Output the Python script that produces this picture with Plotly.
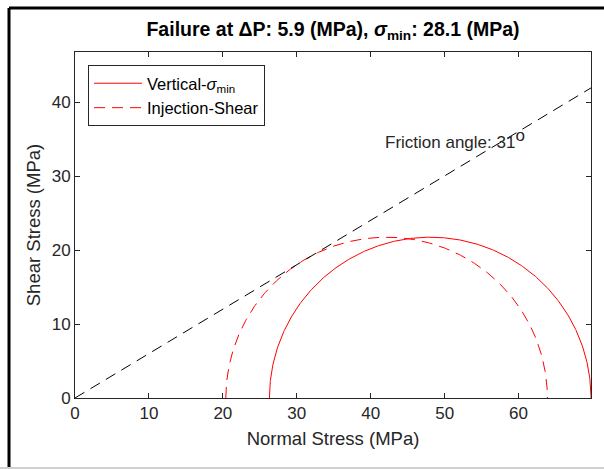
import numpy as np
import plotly.graph_objects as go

# Data
delta_p = 5.9                 # MPa
sigma_min_title = 28.1        # MPa
sigma3_vertical = 26.3        # MPa, left end of solid circle
sigma1_vertical = 69.8        # MPa, right end of solid circle
friction_angle = 31           # degrees
series_names = ["Vertical-<i>σ</i><sub>min</sub>", "Injection-Shear"]
x_ticks = [0, 10, 20, 30, 40, 50, 60]
y_ticks = [0, 10, 20, 30, 40]
x_range = [0, 69.8]
y_range = [0, 46.8]

def mohr(s3, s1, n=400):
    c = (s1 + s3) / 2
    r = (s1 - s3) / 2
    t = np.linspace(np.pi, 0, n)
    return c + r * np.cos(t), r * np.sin(t)

xs, ys = mohr(sigma3_vertical, sigma1_vertical)
xd, yd = mohr(sigma3_vertical - delta_p, sigma1_vertical - delta_p)
fx = np.array([0, x_range[1]])
fy = np.tan(np.radians(friction_angle)) * fx

AX = "#262626"
FONT = "Liberation Sans, Arial, sans-serif"
DASH = "11px,7px"

fig = go.Figure()
fig.add_trace(go.Scatter(x=xs, y=ys, mode="lines", name=series_names[0],
                         line=dict(color="#ff0000", width=1)))
fig.add_trace(go.Scatter(x=xd, y=yd, mode="lines", name=series_names[1],
                         line=dict(color="#ff0000", width=1, dash=DASH)))
fig.add_trace(go.Scatter(x=fx, y=fy, mode="lines", showlegend=False,
                         line=dict(color="#000000", width=1, dash=DASH)))

fig.add_annotation(x=41.6, y=35.0, xanchor="left", yanchor="middle",
                   text=f"Friction angle: {friction_angle}<sup><span style='font-size:17px'>o</span></sup>",
                   showarrow=False, font=dict(family=FONT, size=17, color=AX))

L, R, T, B = 75, 13, 52, 71
W, H = 604, 469
pw, ph = W - L - R, H - T - B

def px(xp):
    return (xp - L) / pw

def py(yp):
    return (H - B - yp) / ph

# figure frame
fig.add_shape(type="line", xref="paper", yref="paper", x0=px(9), x1=px(604),
              y0=py(8), y1=py(8), line=dict(color="black", width=3))
fig.add_shape(type="line", xref="paper", yref="paper", x0=px(9), x1=px(9),
              y0=py(8), y1=py(469), line=dict(color="black", width=3))
fig.add_shape(type="line", xref="paper", yref="paper", x0=px(0), x1=px(604),
              y0=py(468), y1=py(468), line=dict(color="#d0d0d0", width=2))

axis_common = dict(showline=True, linecolor=AX, linewidth=1, mirror="ticks",
                   ticks="inside", ticklen=5, tickcolor=AX, showgrid=False,
                   zeroline=False, tickfont=dict(family=FONT, size=17, color=AX))

fig.update_layout(
    width=W, height=H,
    margin=dict(l=L, r=R, t=T, b=B),
    paper_bgcolor="white", plot_bgcolor="white",
    title=dict(text=f"<b>Failure at ΔP: {delta_p} (MPa), <i>σ</i><sub>min</sub>: {sigma_min_title} (MPa)</b>",
               xref="container", x=333 / W, xanchor="center", y=1 - 29 / H, yanchor="middle",
               font=dict(family=FONT, size=19.5, color="black")),
    xaxis=dict(range=x_range, tickvals=x_ticks,
               title=dict(text="Normal Stress (MPa)", font=dict(family=FONT, size=18.5, color=AX), standoff=9),
               **axis_common),
    yaxis=dict(range=y_range, tickvals=y_ticks,
               title=dict(text="Shear Stress (MPa)", font=dict(family=FONT, size=18.5, color=AX), standoff=6),
               **axis_common),
    legend=dict(x=px(88), y=py(65), xanchor="left", yanchor="top",
                bgcolor="white", bordercolor=AX, borderwidth=1,
                font=dict(family=FONT, size=16.5, color="black"),
                tracegroupgap=0, itemwidth=48),
    showlegend=True,
)

fig.write_html("out.html")
